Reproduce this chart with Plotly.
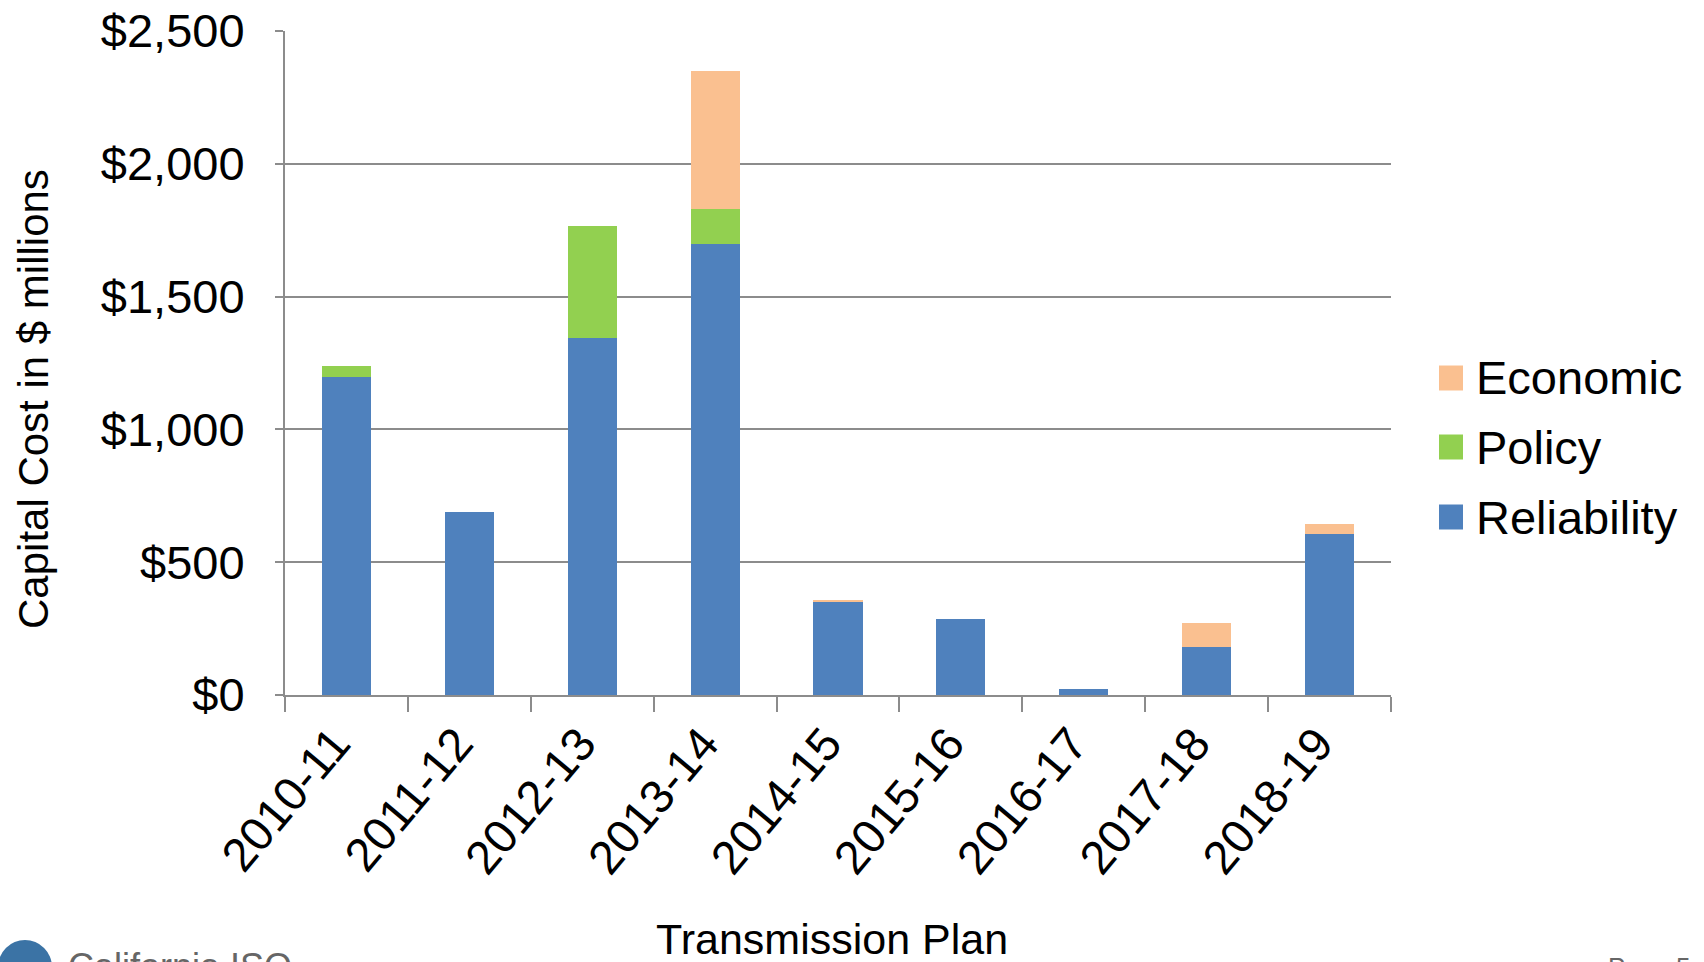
import plotly.graph_objects as go

# ---- data ($ millions) ----
plans = ["2010-11", "2011-12", "2012-13", "2013-14", "2014-15",
         "2015-16", "2016-17", "2017-18", "2018-19"]
reliability = [1196, 690, 1343, 1697, 351, 288, 23, 181, 607]
policy = [42, 0, 421, 132, 0, 0, 0, 0, 0]
economic = [0, 0, 0, 522, 7, 0, 0, 89, 38]

series_names = ["Reliability", "Policy", "Economic"]
series_values = [reliability, policy, economic]
series_colors = ["#4F81BD", "#92D050", "#FAC090"]

FONT = "Liberation Sans, Arial, sans-serif"
GRID = "#8C8C8C"

# plot-area geometry in pixels
L, R, T, B = 285, 313, 31, 267
PW, PH = 1704 - L - R, 962 - T - B


def px_x(x):
    return (x - L) / PW


def px_y(y):
    return 1 - (y - T) / PH


fig = go.Figure()
for name, vals, col in zip(series_names, series_values, series_colors):
    fig.add_trace(go.Bar(
        x=plans, y=vals, name=name,
        marker=dict(color=col, line=dict(width=0)),
        showlegend=False,
    ))

fig.update_layout(
    width=1704, height=962,
    autosize=False,
    barmode="stack",
    bargap=0.6,
    plot_bgcolor="white",
    paper_bgcolor="white",
    margin=dict(l=L, r=R, t=T, b=B),
    font=dict(family=FONT, color="black"),
    showlegend=False,
)

fig.update_xaxes(
    type="category",
    tickangle=-50,
    tickfont=dict(size=47, family=FONT, color="black"),
    ticks="outside", tickson="boundaries", ticklen=15,
    tickwidth=2, tickcolor=GRID,
    ticklabelshift=-12,
    showline=True, linecolor=GRID, linewidth=2,
    showgrid=False,
    automargin=False,
)
fig.update_yaxes(
    range=[0, 2500], dtick=500,
    tickprefix="$", tickformat=",",
    tickfont=dict(size=47, family=FONT, color="black"),
    ticks="outside", ticklen=8, tickwidth=2, tickcolor=GRID,
    ticklabelstandoff=21,
    showline=True, linecolor=GRID, linewidth=2,
    showgrid=True, gridcolor=GRID, gridwidth=2,
    zeroline=False,
    automargin=False,
)

# axis titles placed as in the original
fig.add_annotation(xref="paper", yref="paper",
                   x=px_x(33), y=px_y(399),
                   xanchor="center", yanchor="middle",
                   text="Capital Cost in $ millions", textangle=-90,
                   showarrow=False,
                   font=dict(size=42, family=FONT, color="black"))
fig.add_annotation(xref="paper", yref="paper",
                   x=px_x(832), y=px_y(939),
                   xanchor="center", yanchor="middle",
                   text="Transmission Plan",
                   showarrow=False,
                   font=dict(size=43, family=FONT, color="black"))

# ---- legend drawn manually (large swatches like the original) ----
legend_order = [2, 1, 0]  # Economic, Policy, Reliability from top
legend_y = [378, 447, 517]  # pixel centres
for idx, ypix in zip(legend_order, legend_y):
    fig.add_shape(type="rect", xref="paper", yref="paper",
                  x0=px_x(1439), x1=px_x(1463),
                  y0=px_y(ypix + 12.5), y1=px_y(ypix - 12.5),
                  fillcolor=series_colors[idx], line=dict(width=0))
    fig.add_annotation(xref="paper", yref="paper",
                       x=px_x(1474), y=px_y(ypix),
                       xanchor="left", yanchor="middle",
                       text=series_names[idx], showarrow=False,
                       font=dict(size=47, family=FONT, color="black"))

# ---- footer (partially cut off in the original) ----
fig.add_shape(type="circle", xref="paper", yref="paper",
              x0=px_x(-2), x1=px_x(52),
              y0=px_y(994), y1=px_y(940),
              fillcolor="#3B73A5", line=dict(width=0))
fig.add_annotation(xref="paper", yref="paper",
                   x=px_x(66), y=px_y(944),
                   xanchor="left", yanchor="top",
                   text="California ISO", showarrow=False,
                   font=dict(size=36, family=FONT, color="#666666"))
fig.add_annotation(xref="paper", yref="paper",
                   x=px_x(1606), y=px_y(950),
                   xanchor="left", yanchor="top",
                   text="Page 5", showarrow=False,
                   font=dict(size=26, family=FONT, color="#666666"))

fig.write_html("out.html",
               config={"displayModeBar": False},
               post_script="document.body.style.margin='0';document.body.style.overflow='hidden';")
